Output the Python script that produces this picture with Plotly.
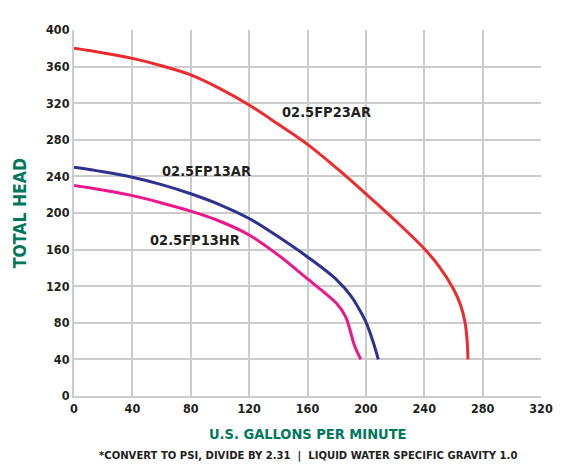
import plotly.graph_objects as go

# Data
red_gpm = [0, 20, 40, 60, 80, 100, 120, 140, 160, 180, 200, 220, 240, 250, 260, 265, 268, 269.3, 270]
red_head = [380, 375, 369, 361, 351, 336, 318, 297, 275, 249, 221, 192, 161, 142, 117, 99, 80, 62, 40]

blue_gpm = [0, 20, 40, 60, 80, 100, 120, 140, 160, 180, 190, 195, 200, 205, 208.5]
blue_head = [250, 245, 239, 231, 221, 209, 194, 174, 152, 127, 109, 96, 81, 59, 40]

pink_gpm = [0, 20, 40, 60, 80, 100, 120, 140, 160, 180, 186, 189, 192, 196.5]
pink_head = [230, 225, 219, 211, 202, 191, 176, 154, 128, 101, 87, 73, 56, 40]

series_names = ["02.5FP23AR", "02.5FP13AR", "02.5FP13HR"]
label_pos = [(173, 310), (91, 246), (83, 170)]
colors = ["#EE2A2D", "#2E3192", "#EC178C"]

x_ticks = [0, 40, 80, 120, 160, 200, 240, 280, 320]
y_ticks = [0, 40, 80, 120, 160, 200, 240, 280, 320, 360, 400]

FONT = "DejaVu Sans Condensed, Roboto, Arial, sans-serif"
DARK = "#231F20"
GREEN = "#00785C"

fig = go.Figure()
for xs, ys, name, col in zip([red_gpm, blue_gpm, pink_gpm], [red_head, blue_head, pink_head], series_names, colors):
    fig.add_trace(go.Scatter(x=xs, y=ys, mode="lines", name=name,
                             line=dict(color=col, width=3, shape="spline", smoothing=1.0)))

for name, (lx, ly) in zip(series_names, label_pos):
    fig.add_annotation(x=lx, y=ly, text=f"<b>{name}</b>", showarrow=False,
                       font=dict(family=FONT, size=14.5, color=DARK))

fig.add_annotation(xref="paper", yref="paper", x=0.5, y=-0.105, text="<b>U.S. GALLONS PER MINUTE</b>",
                   showarrow=False, font=dict(family=FONT, size=14.5, color=GREEN), yanchor="middle")
fig.add_annotation(xref="paper", yref="paper", x=0.5, y=-0.162,
                   text="<b>*CONVERT TO PSI, DIVIDE BY 2.31  |  LIQUID WATER SPECIFIC GRAVITY 1.0</b>",
                   showarrow=False, font=dict(family=FONT, size=11.2, color=DARK), yanchor="middle")
fig.add_annotation(xref="paper", yref="paper", x=-0.115, y=0.5, text="<b>TOTAL HEAD</b>", textangle=-90,
                   showarrow=False, font=dict(family=FONT, size=17.5, color=GREEN), xanchor="center")

fig.update_layout(
    width=558, height=468,
    margin=dict(l=66, r=25, t=22, b=80),
    paper_bgcolor="white", plot_bgcolor="white",
    showlegend=False,
    font=dict(family=FONT, color=DARK),
)
fig.update_xaxes(range=[0, 320], tickvals=x_ticks, ticktext=[f"<b>{v}</b>" for v in x_ticks],
                 showgrid=True, gridcolor="#CCCCCC", gridwidth=2, zeroline=False, automargin=False,
                 showline=True, linecolor="#CCCCCC", linewidth=2, mirror=False,
                 tickfont=dict(family=FONT, size=12.5, color=DARK), ticks="", ticklen=0)
fig.update_yaxes(range=[0, 400], tickvals=y_ticks, ticktext=[f"<b>{v}</b>" for v in y_ticks],
                 showgrid=True, gridcolor="#CCCCCC", gridwidth=2, zeroline=False, automargin=False,
                 showline=True, linecolor="#CCCCCC", linewidth=2,
                 tickfont=dict(family=FONT, size=12.5, color=DARK), ticks="", ticklen=0)

fig.write_html("out.html")
